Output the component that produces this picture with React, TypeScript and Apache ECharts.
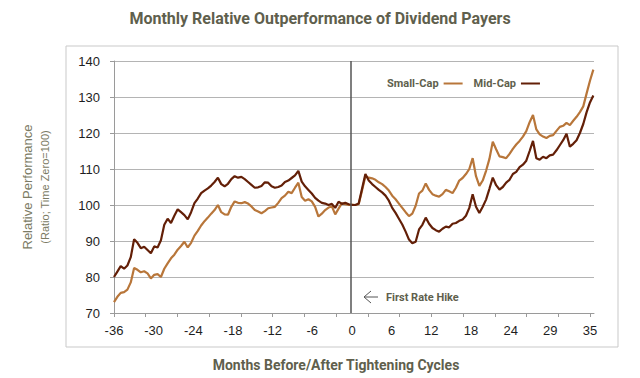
import React, { useEffect, useRef } from "react";
import * as echarts from "echarts";

// Months relative to first rate hike (half-month steps)
const months: number[] = Array.from({ length: 144 }, (_, i) => -36 + i * 0.5);

const smallCap: number[] = [
  73.0, 74.5, 75.6, 75.8, 76.5, 78.5, 82.5, 82.0, 81.3, 81.6, 81.0, 79.6,
  80.6, 80.8, 80.0, 82.3, 83.8, 85.2, 86.2, 87.6, 88.6, 89.8, 88.2, 89.5,
  91.5, 92.8, 94.3, 95.5, 96.5, 97.6, 98.6, 100.0, 98.0, 97.4, 97.3, 99.5,
  101.0, 100.6, 100.5, 100.8, 100.4, 99.6, 98.6, 98.2, 97.7, 98.3, 99.1, 99.3,
  99.5, 100.6, 101.9, 102.6, 103.7, 103.3, 104.8, 106.2, 102.2, 101.2, 101.6, 101.0,
  99.5, 96.8, 97.6, 98.6, 99.3, 99.6, 97.4, 99.0, 100.5, 100.2, 100.0, 100.1,
  100.0, 100.2, 104.0, 108.0, 107.6, 107.4, 107.0, 106.3, 105.8, 105.0, 104.0, 102.6,
  101.6, 100.4, 99.2, 98.0, 96.9, 97.6, 99.8, 103.2, 104.0, 106.0, 104.2, 103.0,
  102.6, 102.3, 103.0, 104.2, 103.8, 103.3, 104.8, 106.8, 107.5, 108.6, 110.0, 113.0,
  108.0, 105.3, 106.8, 109.5, 112.8, 117.6, 115.5, 113.5, 113.3, 113.0, 114.2, 115.6,
  116.8, 117.8, 119.0, 120.5, 123.0, 125.0, 121.0, 119.6, 119.0, 118.6, 119.2, 119.4,
  120.6, 121.7, 122.0, 122.8, 122.2, 123.4, 124.5, 125.8, 127.4, 131.0, 134.5, 137.6,
];

const midCap: number[] = [
  80.0, 81.5, 83.0, 82.3, 83.2, 85.5, 90.5, 89.5, 88.0, 88.4, 87.5, 86.6,
  88.5, 88.2, 90.2, 94.5, 96.2, 95.0, 97.0, 98.8, 98.0, 97.2, 96.0, 98.0,
  100.5, 101.8, 103.3, 104.0, 104.6, 105.4, 106.4, 107.6, 105.8, 105.2, 105.9, 107.2,
  108.0, 107.6, 107.8, 107.2, 106.4, 105.6, 104.8, 104.9, 105.3, 106.3, 106.2, 105.2,
  104.8, 105.0, 105.4, 106.4, 106.8, 107.5, 108.2, 109.5, 106.5, 105.2, 104.2, 103.2,
  102.0, 101.2, 100.6, 100.4, 100.0, 100.3, 99.2, 100.9, 100.3, 100.6, 100.2, 100.0,
  100.0, 100.4, 104.5, 108.6, 106.8, 105.8, 105.0, 104.2, 103.5, 102.6, 101.2, 99.2,
  97.8, 96.2, 94.6, 92.6, 90.4, 89.4, 89.8, 93.2, 94.5, 96.5, 94.8, 93.6,
  93.0, 92.6, 93.4, 94.0, 93.8, 94.8, 95.0, 95.6, 96.0, 97.0, 99.2, 103.0,
  99.5, 97.8, 99.5, 101.5, 104.5, 107.6, 105.5, 104.3, 105.0, 106.2, 107.0, 108.6,
  109.2, 110.5, 111.2, 112.3, 115.0, 117.8, 113.0, 112.6, 113.4, 113.0, 113.8, 114.0,
  115.2, 116.6, 118.0, 119.8, 116.2, 117.0, 118.0, 120.0, 122.5, 125.8, 128.5, 130.4,
];

const xLabelTexts: string[] = ["-36", "-30", "-24", "-18", "-12", "-6", "0", "6", "12", "18", "24", "29", "35"];
const xLabelPositions: number[] = xLabelTexts.map((_, k) => -36 + (k * 71) / 12);
const xTickPositions: number[] = Array.from({ length: 16 }, (_, k) => -36 + (k * 71) / 15);

const yMin = 70;
const yMax = 140;
const yStep = 10;

const SMALL_COLOR = "#b8763a";
const MID_COLOR = "#631f07";
const TEXT_OLIVE = "#5f5f4d";

export default function App() {
  const ref = useRef<HTMLDivElement>(null);
  useEffect(() => {
    document.body.style.margin = "0";
    const chart = echarts.init(ref.current!, null, { renderer: "svg" });
    chart.setOption({
      animation: false,
      backgroundColor: "#ffffff",
      grid: { left: 114, right: 46, top: 61, bottom: 65, containLabel: false },
      legend: {
        data: ["Small-Cap", "Mid-Cap"],
        left: 382,
        top: 73,
        align: "right",
        icon: "rect",
        itemWidth: 19,
        itemHeight: 2,
        itemGap: 11,
        textStyle: { fontFamily: "Roboto", fontWeight: "bold", fontSize: 11, color: TEXT_OLIVE },
      },
      xAxis: {
        type: "value",
        min: -36,
        max: 35.6,
        axisLine: { show: true, onZero: false, lineStyle: { color: "#9a9a9a", width: 1 } },
        axisTick: {
          show: true,
          length: 4,
          customValues: xTickPositions,
          lineStyle: { color: "#9a9a9a" },
        },
        splitLine: { show: false },
        axisLabel: {
          customValues: xLabelPositions,
          margin: 11,
          fontFamily: "Liberation Sans",
          fontSize: 13,
          color: "#1e1e1e",
          formatter: (v: number) => {
            const idx = xLabelPositions.findIndex((p) => Math.abs(p - v) < 0.01);
            return idx >= 0 ? xLabelTexts[idx] : "";
          },
        },
      },
      yAxis: {
        type: "value",
        min: yMin,
        max: yMax,
        interval: yStep,
        axisLine: { show: true, onZero: false, lineStyle: { color: "#9a9a9a", width: 1 } },
        axisTick: { show: true, length: 4, lineStyle: { color: "#9a9a9a" } },
        splitLine: { show: true, lineStyle: { color: "#b4b4b4", width: 1 } },
        axisLabel: {
          margin: 14,
          fontFamily: "Liberation Sans",
          fontSize: 13,
          color: "#1e1e1e",
        },
      },
      series: [
        {
          name: "Small-Cap",
          type: "line",
          data: months.map((m, i) => [m, smallCap[i]]),
          showSymbol: false,
          lineStyle: { color: SMALL_COLOR, width: 2.2 },
          itemStyle: { color: SMALL_COLOR },
          z: 2,
        },
        {
          name: "Mid-Cap",
          type: "line",
          data: months.map((m, i) => [m, midCap[i]]),
          showSymbol: false,
          lineStyle: { color: MID_COLOR, width: 2.2 },
          itemStyle: { color: MID_COLOR },
          z: 3,
          markLine: {
            silent: true,
            symbol: ["none", "none"],
            label: { show: false },
            lineStyle: { color: "#555555", width: 1.5, type: "solid" },
            data: [{ xAxis: -0.7 }],
          },
        },
      ],
      graphic: [
        {
          type: "rect",
          shape: { x: 66, y: 46, width: 552, height: 301 },
          style: { fill: "none", stroke: "#c9c9c9", lineWidth: 1 },
          silent: true,
        },
        {
          type: "text",
          x: 320,
          y: 18,
          style: {
            text: "Monthly Relative Outperformance of Dividend Payers",
            fontFamily: "Roboto",
            fontWeight: "bold",
            fontSize: 16,
            fill: TEXT_OLIVE,
            align: "center",
            verticalAlign: "middle",
          },
        },
        {
          type: "text",
          x: 336,
          y: 365,
          style: {
            text: "Months Before/After Tightening Cycles",
            fontFamily: "Roboto",
            fontWeight: "bold",
            fontSize: 14,
            fill: TEXT_OLIVE,
            align: "center",
            verticalAlign: "middle",
          },
        },
        {
          type: "text",
          x: 27,
          y: 187,
          rotation: Math.PI / 2,
          style: {
            text: "Relative Performance",
            fontFamily: "Liberation Sans",
            fontSize: 13,
            fill: "#7b7b64",
            align: "center",
            verticalAlign: "middle",
          },
        },
        {
          type: "text",
          x: 45,
          y: 187,
          rotation: Math.PI / 2,
          style: {
            text: "(Ratio; Time Zero=100)",
            fontFamily: "Liberation Sans",
            fontSize: 11,
            fill: "#7b7b64",
            align: "center",
            verticalAlign: "middle",
          },
        },
        {
          type: "polyline",
          shape: { points: [[371, 291], [364, 297], [371, 303]] },
          style: { stroke: "#555555", lineWidth: 1, fill: "none" },
        },
        {
          type: "line",
          shape: { x1: 364, y1: 297, x2: 378, y2: 297 },
          style: { stroke: "#555555", lineWidth: 1 },
        },
        {
          type: "text",
          x: 386,
          y: 297,
          style: {
            text: "First Rate Hike",
            fontFamily: "Roboto",
            fontWeight: "bold",
            fontSize: 11,
            fill: TEXT_OLIVE,
            align: "left",
            verticalAlign: "middle",
          },
        },
      ],
    });
    return () => chart.dispose();
  }, []);
  return <div ref={ref} style={{ width: 640, height: 378 }} />;
}
